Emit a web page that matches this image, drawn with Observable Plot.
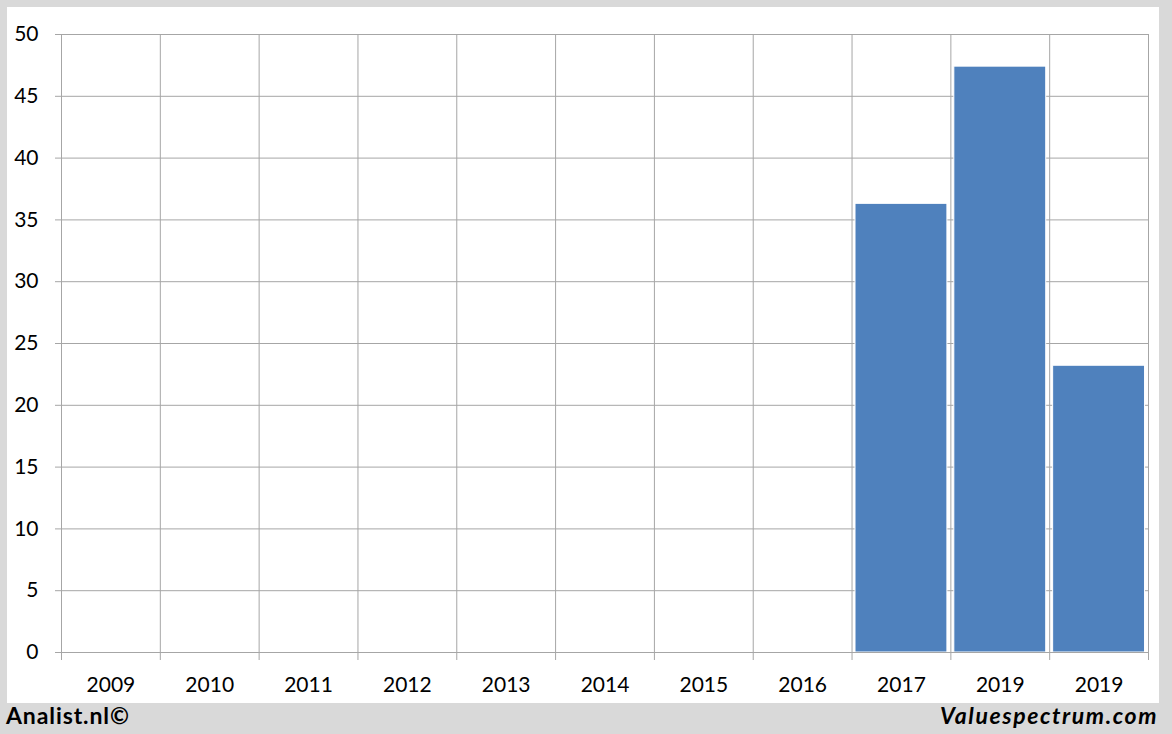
<!DOCTYPE html>
<html>
<head>
<meta charset="utf-8">
<script src="https://cdn.jsdelivr.net/npm/d3@7"></script>
<script src="https://cdn.jsdelivr.net/npm/@observablehq/plot@0.6"></script>
<style>
  html, body { margin: 0; padding: 0; }
  body { width: 1172px; height: 734px; background: #d9d9d9; position: relative; overflow: hidden; font-family: Lato, "Open Sans", sans-serif; }
  #panel { position: absolute; left: 7px; top: 7px; width: 1152px; height: 696px; background: #fff; }
  #left { position: absolute; left: 6px; top: 701px; font: bold 23px Lato, sans-serif; letter-spacing: 0.9px; color: #000; }
  #right { position: absolute; right: 14px; top: 701px; font: italic bold 23px Lato, sans-serif; letter-spacing: 1.6px; color: #000; }
</style>
</head>
<body>
<div id="panel"></div>
<div id="left">Analist.nl©</div>
<div id="right">Valuespectrum.com</div>
<script>
const labels = ["2009","2010","2011","2012","2013","2014","2015","2016","2017","2019","2019"];
const values = [null,null,null,null,null,null,null,null,36.3,47.4,23.2];
const yTicks = [0,5,10,15,20,25,30,35,40,45,50];

const data = labels.map((l, i) => ({i, label: l, value: values[i]})).filter(d => d.value != null);
const bounds = d3.range(labels.length + 1);
const centers = labels.map((l, i) => i + 0.5);
const pad = 0.035;

const chart = Plot.plot({
  width: 1152,
  height: 696,
  marginLeft: 54,
  marginRight: 11,
  marginTop: 27,
  marginBottom: 51,
  style: {fontFamily: "Lato, 'Open Sans', sans-serif", fontSize: "21px", color: "#000", background: "#fff"},
  x: {type: "linear", domain: [0, labels.length]},
  y: {domain: [0, 50]},
  marks: [
    Plot.gridY(yTicks, {stroke: "#a6a6a6", strokeOpacity: 1, strokeWidth: 1}),
    Plot.gridX(bounds, {stroke: "#a6a6a6", strokeOpacity: 1, strokeWidth: 1}),
    Plot.rectY(data, {x1: d => d.i + pad, x2: d => d.i + 1 - pad, y: "value", fill: "#4f81bd", stroke: "#fff", strokeWidth: 1}),
    Plot.axisY(yTicks, {tickSize: 6, tickPadding: 17, stroke: "#a6a6a6", fill: "#000", label: null, fontSize: 21}),
    Plot.axisX(bounds, {tickSize: 8, stroke: "#a6a6a6", tickFormat: () => "", label: null}),
    Plot.axisX(centers, {tickSize: 0, tickPadding: 25, tickFormat: d => labels[Math.floor(d)], fill: "#000", label: null, fontSize: 21}),
    Plot.ruleY([0], {stroke: "#a6a6a6"})
  ]
});
document.getElementById("panel").appendChild(chart);
</script>
</body>
</html>
